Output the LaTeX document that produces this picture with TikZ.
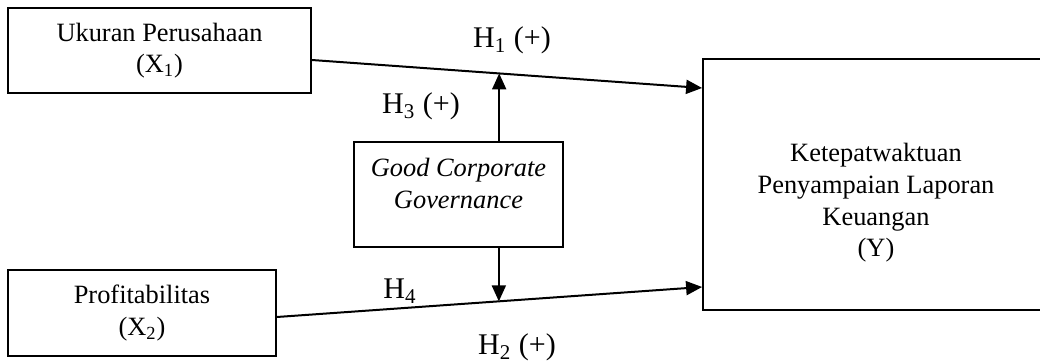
\documentclass[tikz,border=0pt]{standalone}
\usepackage{fontspec}
\setmainfont{Liberation Serif}
\usetikzlibrary{arrows.meta,positioning}

\tikzset{
  kotak/.style={draw, line width=0.9pt, align=center, font=\fontsize{13.2}{15.8}\selectfont},
  panah/.style={line width=1pt, -{Triangle[length=8pt,width=7pt]}},
  hipo/.style={font=\fontsize{15}{18}\selectfont, anchor=base}
}

\begin{document}
\begin{tikzpicture}[x=0.5pt, y=-0.5pt]

      % batas gambar
      \useasboundingbox (0,0) rectangle (1040,363);

      % Variabel independen
      \node[kotak, minimum width=151.5pt, minimum height=42.5pt] (x1) at (159.5,50.5) {Ukuran Perusahaan\\(X\textsubscript{1})};
      \node[kotak, minimum width=134pt, minimum height=43pt] (x2) at (142,313) {Profitabilitas\\(X\textsubscript{2})};

      % Variabel moderasi
      \node[kotak, font=\fontsize{13.2}{16}\selectfont\itshape, text depth=11pt,
            minimum width=104.5pt, minimum height=52.5pt] (gcg) at (458.5,194.5) {Good Corporate\\Governance};

      % Variabel dependen
      \node[kotak, text height=75pt, minimum width=173pt, minimum height=125.5pt] (lapkeu) at (876,184.5)
            {Ketepatwaktuan\\Penyampaian Laporan\\Keuangan\\(Y)};

      % Panah pengaruh langsung
      \draw[panah] ([yshift=-4.75pt]x1.east) -- coordinate[pos=0.48] (a1) ([yshift=48.25pt]lapkeu.west);
      \draw[panah] ([yshift=-2pt]x2.east) -- coordinate[pos=0.522] (a2) ([yshift=-51.25pt]lapkeu.west);

      % Panah moderasi
      \draw[panah] (a1 |- gcg.north) -- (a1);
      \draw[panah] (a2 |- gcg.south) -- (a2);

      % Hipotesis
      \node[hipo] (h1) at (512,48) {H\textsubscript{1} (+)};
      \node[hipo] (h3) at (421,114) {H\textsubscript{3} (+)};
      \node[hipo] (h4) at (400,299) {H\textsubscript{4}};
      \node[hipo] (h2) at (517,355) {H\textsubscript{2} (+)};
    \end{tikzpicture}
\end{document}
